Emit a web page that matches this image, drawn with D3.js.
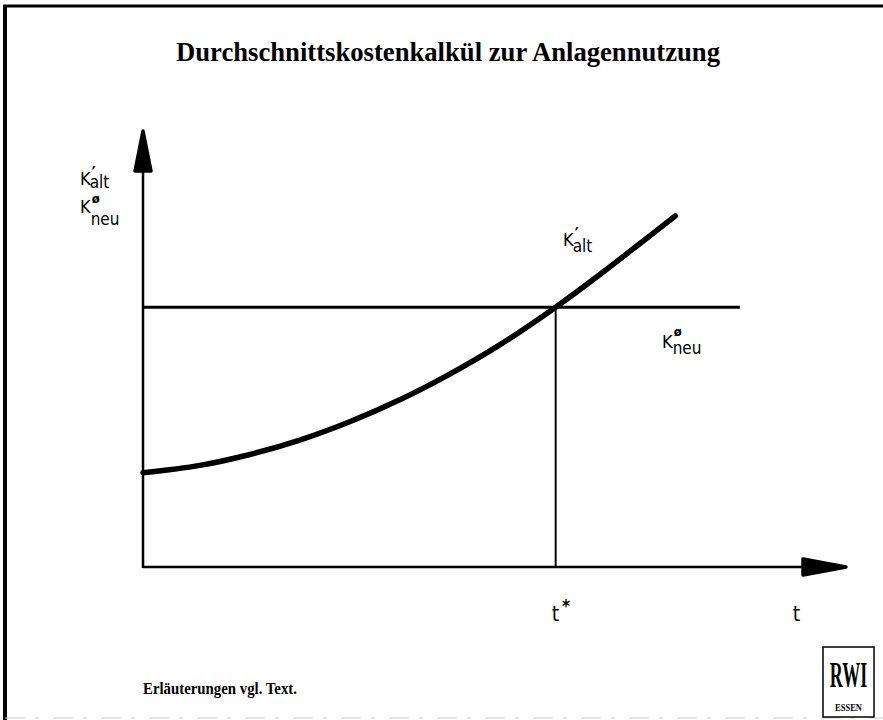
<!DOCTYPE html>
<html>
<head>
<meta charset="utf-8">
<script src="https://cdn.jsdelivr.net/npm/d3@7"></script>
<style>
  body { margin: 0; background: #fff; }
  svg { display: block; }
  .sans { font-family: "DejaVu Sans Condensed", "DejaVu Sans", sans-serif; }
  .serif { font-family: "Liberation Serif", "Times New Roman", serif; font-weight: bold; }
</style>
</head>
<body>
<div id="chart"></div>
<script>
// curve K'alt (average cost of the old plant)
var tAlt = [0, 0.81, 1.52, 2.23, 2.94, 3.66, 4.37, 5.08, 5.87, 6.50, 7.07, 7.57];
var kAlt = [2.16, 2.33, 2.58, 2.91, 3.33, 3.84, 4.43, 5.10, 5.96, 6.71, 7.42, 8.05];
// constant average cost of the new plant
var kNeu = 5.96;
var kNeuEnd = 8.49;
// intersection time and axis tick labels
var tStar = 5.87;
var tickValues = [5.87, 9.3];
var tickLabels = ["t", "t"];
var tickSup = ["*", ""];

var width = 883, height = 720;
var margin = {top: 131, right: 37, bottom: 153, left: 143};

var x = d3.scaleLinear().domain([0, 10]).range([margin.left, width - margin.right]);
var y = d3.scaleLinear().domain([0, 10]).range([height - margin.bottom, margin.top]);

var svg = d3.select("#chart")
    .append("svg")
    .attr("width", width)
    .attr("height", height);

// page frame
svg.append("line").attr("x1", 3).attr("x2", width).attr("y1", 6).attr("y2", 6)
    .attr("stroke", "#000").attr("stroke-width", 3);
svg.append("line").attr("x1", 5).attr("x2", 5).attr("y1", 5).attr("y2", height)
    .attr("stroke", "#000").attr("stroke-width", 4);
svg.append("line").attr("x1", 5).attr("x2", width).attr("y1", 718).attr("y2", 718)
    .attr("stroke", "#ccc").attr("stroke-width", 1.2).attr("stroke-dasharray", "20 10 4 14");

svg.append("text")
    .attr("class", "serif")
    .attr("x", 448)
    .attr("y", 61)
    .attr("text-anchor", "middle")
    .attr("font-size", 27)
    .attr("textLength", 544)
    .attr("lengthAdjust", "spacingAndGlyphs")
    .text("Durchschnittskostenkalkül zur Anlagennutzung");

// axes
svg.append("line")
    .attr("x1", x(0)).attr("x2", x(0))
    .attr("y1", y(0) + 1).attr("y2", y(9.2))
    .attr("stroke", "#000").attr("stroke-width", 2.5);
svg.append("line")
    .attr("x1", x(0)).attr("x2", x(9.5))
    .attr("y1", y(0)).attr("y2", y(0))
    .attr("stroke", "#000").attr("stroke-width", 2.5);

// arrow heads
svg.append("path")
    .attr("d", "M" + x(0) + "," + y(10) +
        " L" + (x(0) + 8) + "," + (y(10) + 40) +
        " L" + (x(0) - 8) + "," + (y(10) + 40) + " Z")
    .attr("fill", "#000").attr("stroke", "#000").attr("stroke-width", 3.5)
    .attr("stroke-linejoin", "round");
svg.append("path")
    .attr("d", "M" + x(10) + "," + y(0) +
        " L" + (x(10) - 43) + "," + (y(0) - 8) +
        " L" + (x(10) - 43) + "," + (y(0) + 8) + " Z")
    .attr("fill", "#000").attr("stroke", "#000").attr("stroke-width", 3.5)
    .attr("stroke-linejoin", "round");

// K neu line
svg.append("line")
    .attr("x1", x(0)).attr("x2", x(kNeuEnd))
    .attr("y1", y(kNeu)).attr("y2", y(kNeu))
    .attr("stroke", "#000").attr("stroke-width", 3);

// t* drop line
svg.append("line")
    .attr("x1", x(tStar)).attr("x2", x(tStar))
    .attr("y1", y(kNeu)).attr("y2", y(0))
    .attr("stroke", "#000").attr("stroke-width", 2);

// K alt curve
var line = d3.line()
    .x(function(d) { return x(d[0]); })
    .y(function(d) { return y(d[1]); })
    .curve(d3.curveCatmullRom);

svg.append("path")
    .datum(d3.zip(tAlt, kAlt))
    .attr("fill", "none")
    .attr("stroke", "#000")
    .attr("stroke-width", 5.5)
    .attr("stroke-linecap", "round")
    .attr("d", line);

// tick labels under the t axis
var ticks = svg.selectAll(".tick")
    .data(tickValues)
    .enter()
    .append("text")
    .attr("class", "sans tick")
    .attr("x", function(d) { return x(d) - 4; })
    .attr("y", 621)
    .attr("font-size", 21);
ticks.append("tspan").text(function(d, i) { return tickLabels[i]; });
ticks.append("tspan")
    .attr("dy", -9)
    .attr("dx", 3)
    .attr("font-size", 17)
    .attr("font-weight", "bold")
    .text(function(d, i) { return tickSup[i]; });

// K labels: K, raised mark, lowered subscript in one text
function kLabel(px, py, mark, sub, markDy, subDy) {
    var isO = mark === "ø";
    var t = svg.append("text").attr("class", "sans")
        .attr("x", px).attr("y", py).attr("font-size", 18);
    t.append("tspan").text("K");
    t.append("tspan")
        .attr("dx", 1)
        .attr("dy", markDy)
        .attr("font-size", isO ? 13 : 17)
        .attr("font-weight", "bold")
        .text(mark);
    t.append("tspan")
        .attr("dx", isO ? -9 : -6)
        .attr("dy", subDy - markDy)
        .attr("font-size", 17)
        .text(sub);
}

kLabel(80, 185, "′", "alt", -6, 3);
kLabel(80, 213, "ø", "neu", -10, 12);
kLabel(563, 246, "′", "alt", -6, 6);
kLabel(662, 348, "ø", "neu", -12, 6);

svg.append("text")
    .attr("class", "serif")
    .attr("x", 143)
    .attr("y", 694)
    .attr("font-size", 16.5)
    .attr("textLength", 154)
    .attr("lengthAdjust", "spacingAndGlyphs")
    .text("Erläuterungen vgl. Text.");

// RWI logo
svg.append("rect")
    .attr("x", 823).attr("y", 647).attr("width", 51).attr("height", 70)
    .attr("fill", "none").attr("stroke", "#000").attr("stroke-width", 1.5);
svg.append("text")
    .attr("class", "serif")
    .attr("transform", "translate(848.5,687) scale(0.5,1)")
    .attr("text-anchor", "middle")
    .attr("font-size", 36)
    .text("RWI");
svg.append("text")
    .attr("class", "serif")
    .attr("transform", "translate(848.5,711) scale(0.85,1)")
    .attr("text-anchor", "middle")
    .attr("font-size", 10)
    .text("ESSEN");
</script>
</body>
</html>
